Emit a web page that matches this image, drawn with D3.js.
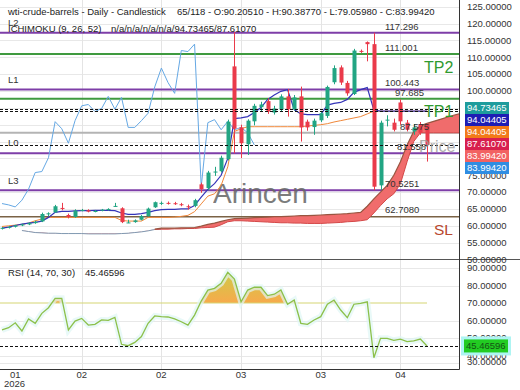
<!DOCTYPE html>
<meta charset="utf-8">
<script src="https://d3js.org/d3.v7.min.js"></script>
<style>
  body { margin: 0; background: #fff; }
  text { font-family: "Liberation Sans", Arial, sans-serif; }
</style>
<div id="chart"></div>
<script>
// ---- candles (daily OHLC, 65 visible bars) ----
const open = [59.2, 59.4, 59.7, 60.1, 60.4, 60.8, 61.3, 63.4, 64.0, 65.3,
  63.2, 62.6, 64.6, 64.6, 64.3, 64.5, 64.8, 65.8, 65.2, 60.9,
  61.1, 61.8, 62.9, 65.5, 66.7, 66.8, 66.7, 66.4, 65.8, 65.9,
  72.3, 71.2, 75.8, 76.2, 79.8, 107.3, 89.2, 84.2, 91.0, 95.2,
  97.0, 93.6, 94.5, 98.4, 94.6, 98.4, 90.9, 89.3, 91.3, 92.6,
  102.6, 107.0, 102.4, 99.1, 111.9, 114.5, 113.9, 72.0, 91.2, 90.6,
  96.6, 90.6, 88.0, 90.2, 90.2051];
const high = [59.6, 59.9, 60.3, 60.6, 61.0, 61.5, 63.9, 64.0, 66.2, 66.8,
  63.6, 64.9, 65.0, 64.9, 64.7, 65.0, 65.2, 66.8, 65.5, 61.8,
  61.9, 63.2, 65.4, 67.2, 67.2, 67.2, 67.1, 66.8, 66.3, 68.0,
  72.8, 76.3, 77.5, 80.8, 91.5, 117.6, 90.0, 91.6, 96.2, 96.8,
  97.8, 95.6, 99.0, 100.6, 98.8, 101.3, 91.5, 91.8, 94.0, 101.6,
  107.6, 107.6, 103.0, 112.5, 112.3, 114.7, 117.3, 91.2, 92.8, 91.8,
  97.5, 91.4, 90.2, 90.8, 90.3877];
const low = [58.9, 59.2, 59.5, 59.9, 60.2, 60.6, 61.1, 62.9, 63.8, 64.6,
  62.2, 62.4, 64.3, 64.0, 64.0, 64.3, 64.5, 65.6, 60.8, 60.8,
  60.9, 61.6, 62.7, 65.3, 66.2, 66.3, 66.2, 65.8, 64.8, 65.5,
  69.8, 70.5, 74.8, 75.8, 79.4, 81.5, 80.1, 81.0, 89.8, 93.8,
  93.2, 93.0, 94.0, 92.4, 94.2, 85.0, 88.2, 87.0, 90.8, 92.0,
  102.0, 101.8, 98.6, 98.8, 111.3, 108.8, 70.5251, 70.6, 89.5, 88.0,
  90.0, 88.0, 87.0, 87.0, 79.0598];
const close = [59.4, 59.7, 60.1, 60.4, 60.8, 61.2, 63.5, 63.7, 65.8, 65.1,
  62.6, 64.5, 64.7, 64.2, 64.4, 64.8, 65.0, 65.9, 61.1, 61.0,
  61.6, 62.9, 65.1, 67.0, 66.8, 66.7, 66.6, 66.2, 65.6, 67.6,
  70.9, 75.8, 76.1, 80.2, 90.9, 88.8, 84.5, 91.2, 95.6, 96.0,
  93.9, 94.8, 98.4, 94.6, 98.1, 89.2, 89.2, 91.2, 93.4, 101.2,
  106.8, 102.5, 99.3, 112.0, 111.7, 113.9, 71.6, 90.6, 91.5, 88.5,
  91.0, 88.5, 89.2, 87.6, 83.9942];

// ---- ichimoku (9, 26, 52) ----
const tenkan = [59.3, 59.6, 60.1, 60.5, 60.8, 61.0, 61.4, 62.5, 64.0, 64.3,
  64.3, 64.4, 64.5, 64.5, 64.6, 64.6, 64.6, 64.5, 63.8, 63.4,
  63.4, 63.6, 64.0, 64.5, 64.8, 64.9, 64.9, 65.0, 65.0, 66.0,
  68.5, 70.8, 72.5, 75.0, 80.0, 91.8, 92.0, 92.4, 93.6, 95.1,
  97.5, 98.8, 99.9, 100.4, 94.5, 93.2, 93.0, 93.0, 93.0, 95.8,
  96.3, 96.6, 97.5, 99.6, 100.4, 101.0, 94.3, 94.04, 94.04, 94.04,
  94.04, 94.04, 94.04, 94.04, 94.04];
const kijun = [59.8, 60.0, 60.2, 60.4, 60.8, 61.5, 62.0, 62.5, 62.5, 62.5,
  62.5, 62.5, 62.5, 62.5, 62.5, 62.5, 62.5, 62.5, 61.6, 61.4,
  61.4, 61.4, 62.5, 62.5, 62.5, 62.5, 62.6, 62.8, 63.1, 64.2,
  66.5, 68.8, 69.5, 72.0, 77.5, 88.0, 88.8, 89.4, 89.4, 89.4,
  89.4, 89.4, 89.4, 89.4, 89.4, 89.4, 89.6, 89.8, 90.0, 90.3,
  90.8, 91.2, 91.6, 92.0, 92.4, 93.2, 94.04, 94.04, 94.04, 94.04,
  94.04, 94.04, 94.04, 94.04, 94.04];
const cloudStart = 3; // bar index of first cloud value (cloud runs 26 bars ahead)
const senkouA = [58.7, 58.4, 58.1, 58.0, 57.9, 57.9, 57.8, 57.8, 57.8, 57.8,
  57.7, 57.7, 57.7, 57.7, 57.7, 57.8, 57.9, 58.1, 58.3, 58.6, 59.0,
  59.3, 59.3, 59.3, 59.4, 59.4, 59.5, 59.9, 60.4, 60.8, 61.3, 61.8, 62.1,
  62.2, 62.3, 62.4, 62.5, 62.6, 62.7, 62.7, 62.8, 62.9, 63.0, 63.0, 63.1,
  63.2, 63.3, 63.4, 63.5, 63.6, 63.8, 64.0, 65.8, 68.0,
  70.0, 72.0, 75.0, 79.0, 84.0, 88.0, 89.7, 90.4, 91.0, 91.6, 92.2, 92.8, 93.3];
const senkouB = [58.6, 58.3, 58.0, 57.9, 57.8, 57.8, 57.7, 57.7, 57.7, 57.7,
  57.6, 57.6, 57.6, 57.6, 57.6, 57.7, 57.8, 58.0, 58.2, 58.5, 58.9,
  59.0, 59.0, 59.1, 59.1, 59.2, 59.2, 59.4, 59.5, 59.6, 60.3, 61.2, 61.5,
  61.5, 61.4, 61.3, 61.2, 61.1, 61.0, 60.9, 60.9, 60.8, 60.8, 60.7, 60.7,
  60.7, 60.8, 60.9, 61.0, 61.2, 61.3, 61.5, 61.8, 63.8,
  66.0, 68.0, 69.5, 72.5, 79.0, 85.0, 87.6, 87.6, 87.6, 87.6, 87.6, 87.6, 87.6];
const chikouShift = 26;

// ---- RSI (14, 70, 30) ----
const rsi = [54.6, 55.9, 58.7, 54.0, 60.9, 58.4, 64.1, 67.3, 72.7, 72.7,
  54.6, 59.7, 61.2, 57.4, 57.8, 60.3, 60.1, 61.8, 46.4, 45.6,
  47.5, 50.8, 58.4, 62.6, 62.2, 62.0, 60.9, 59.3, 57.4, 63.1,
  71.1, 77.4, 78.4, 81.3, 87.5, 83.7, 70.7, 77.4, 79.0, 79.0,
  74.2, 75.0, 77.4, 69.3, 71.7, 58.4, 57.8, 60.3, 62.2, 69.3,
  71.7, 66.0, 61.6, 69.3, 69.8, 70.7, 38.7, 49.8, 49.8, 48.7,
  49.4, 47.9, 48.3, 49.4, 45.46596];
const rsiUpper = 70;

// ---- levels ----
const levelValues = [117.296, 111.001, 100.443, 97.685, 87.575, 81.558, 70.5251, 62.708];
const levelText = ["117.296", "111.001", "100.443", "97.685", "87.575", "81.558", "70.5251", "62.7080"];
const levelTags = ["L2", "TP2", "L1", "TP1", "", "L0", "L3", "SL"];
const dashedValues = [94.73465, 94.04405, 83.99420];
const boxValues = ["94.73465", "94.04405", "94.04405", "87.61070", "83.99420", "83.99420"];

// ---- axes ----
const priceTicks = [50, 55, 60, 65, 70, 75, 80, 85, 90, 95, 100, 105, 110, 115, 120, 125];
const rsiTicks = [90, 80, 70, 60, 50, 40, 30];
const dateTickIdx = [2, 12, 24, 36, 48, 60];
const dateTickLabels = ["01", "02", "02", "03", "03", "04"];

const title1 = "wti-crude-barrels - Daily - Candlestick";
const title2 = "65/118 - O:90.20510 - H:90.38770 - L:79.05980 - C:83.99420";
const ichiLabel = "ICHIMOKU (9, 26, 52)";
const ichiValues = "n/a/n/a/n/a/n/a/94.73465/87.61070";
const rsiLabel = "RSI (14, 70, 30)";
const rsiValue = "45.46596";

// ================= drawing =================
const W = 520, H = 390, plotRight = 459, mainBottom = 259.5, rsiTop = 260, rsiBottom = 369;
const svg = d3.select("#chart").append("svg").attr("width", W).attr("height", H);

const x = d3.scaleLinear().domain([0, 64]).range([2, 427]);
const y = d3.scaleLinear().domain([50, 127]).range([259.5, 0]);
const yR = d3.scaleLinear().domain([30, 90]).range([373, 268]);

const defs = svg.append("defs");
defs.append("clipPath").attr("id", "clipMain").append("rect")
  .attr("x", 0).attr("y", 0).attr("width", plotRight).attr("height", mainBottom);
defs.append("clipPath").attr("id", "clipRsi").append("rect")
  .attr("x", 0).attr("y", rsiTop).attr("width", plotRight).attr("height", rsiBottom - rsiTop);
defs.append("clipPath").attr("id", "clipOver").append("rect")
  .attr("x", 0).attr("y", rsiTop).attr("width", plotRight).attr("height", yR(rsiUpper) - rsiTop);
const grad = defs.append("linearGradient").attr("id", "obGrad")
  .attr("x1", 0).attr("x2", 0)
  .attr("gradientUnits", "userSpaceOnUse")
  .attr("y1", yR(90)).attr("y2", yR(70));
grad.append("stop").attr("offset", "0%").attr("stop-color", "#c9cf45");
grad.append("stop").attr("offset", "100%").attr("stop-color", "#f7aa4c");

// grid
const grid = svg.append("g");
grid.selectAll(".hg").data(priceTicks.filter(d => d > 50)).join("line")
  .attr("x1", 0).attr("x2", plotRight)
  .attr("y1", d => Math.round(y(d)) + 0.5).attr("y2", d => Math.round(y(d)) + 0.5)
  .attr("stroke", "#e8e8e8");
grid.selectAll(".rg").data(rsiTicks.filter(d => d !== rsiUpper)).join("line")
  .attr("x1", 0).attr("x2", plotRight)
  .attr("y1", d => Math.round(Math.min(yR(d), 363)) + 0.5)
  .attr("y2", d => Math.round(Math.min(yR(d), 363)) + 0.5)
  .attr("stroke", "#e8e8e8");
grid.selectAll(".vg").data(dateTickIdx.slice(1)).join("line")
  .attr("x1", d => Math.round(x(d)) + 0.5).attr("x2", d => Math.round(x(d)) + 0.5)
  .attr("y1", 0).attr("y2", rsiBottom)
  .attr("stroke", "#e4e4e4");

const main = svg.append("g").attr("clip-path", "url(#clipMain)");

// level lines
const levelColor = t => t.startsWith("L") ? "#7e3ea8" : t.startsWith("TP") ? "#3f9a3f" : t === "SL" ? "#7a6245" : "#b4b4b4";
main.selectAll(".lvl").data(levelValues).join("line")
  .attr("x1", 0).attr("x2", plotRight)
  .attr("y1", d => y(d)).attr("y2", d => y(d))
  .attr("stroke", (d, i) => levelColor(levelTags[i]))
  .attr("stroke-width", (d, i) => levelTags[i] === "SL" ? 1.5 : 2);

// cloud
const cloud = senkouA.map((a, k) => ({ i: k + cloudStart, a, b: senkouB[k] }));
main.append("path").datum(cloud)
  .attr("d", d3.area().x(d => x(d.i)).y0(d => y(d.b)).y1(d => y(d.a)))
  .attr("fill", "#f06c6c");
main.append("path").datum(cloud.slice(0, 22))
  .attr("d", d3.line().x(d => x(d.i)).y(d => y(d.b)))
  .attr("fill", "none").attr("stroke", "#7f9ab2").attr("stroke-width", 1);
main.append("path").datum(cloud.slice(20))
  .attr("d", d3.line().x(d => x(d.i)).y(d => y(d.b)))
  .attr("fill", "none").attr("stroke", "#d44848").attr("stroke-width", 1);
main.append("path").datum(cloud.slice(20))
  .attr("d", d3.line().x(d => x(d.i)).y(d => y(d.a)))
  .attr("fill", "none").attr("stroke", "#985540").attr("stroke-width", 1.2);

// watermark
main.append("text").attr("x", 213).attr("y", 203).text("Arincen")
  .attr("font-size", 28).attr("fill", "#666").attr("opacity", 0.85);

// chikou span
const chikou = close.slice(chikouShift).map((c, i) => ({ i, c }));
main.append("path").datum(chikou)
  .attr("d", d3.line().x(d => x(d.i)).y(d => y(d.c)))
  .attr("fill", "none").attr("stroke", "#65a8e4").attr("stroke-width", 1);

// kijun / tenkan
main.append("path").datum(kijun)
  .attr("d", d3.line().x((d, i) => x(i)).y(d => y(d)))
  .attr("fill", "none").attr("stroke", "#f0883a").attr("stroke-width", 1);
main.append("path").datum(tenkan)
  .attr("d", d3.line().x((d, i) => x(i)).y(d => y(d)))
  .attr("fill", "none").attr("stroke", "#3434b8").attr("stroke-width", 1.2);

// candles
const up = "#22a583", down = "#ea3a4a";
const bars = open.map((o, i) => ({ i, o, h: high[i], l: low[i], c: close[i] }));
const cg = main.append("g");
cg.selectAll(".wick").data(bars).join("line")
  .attr("x1", d => Math.round(x(d.i)) + 0.5).attr("x2", d => Math.round(x(d.i)) + 0.5)
  .attr("y1", d => y(d.h)).attr("y2", d => y(d.l))
  .attr("stroke", d => d.c >= d.o ? up : down).attr("stroke-width", 1);
cg.selectAll(".body").data(bars).join("rect")
  .attr("x", d => Math.round(x(d.i)) - 1.5)
  .attr("width", 4)
  .attr("y", d => y(Math.max(d.o, d.c)))
  .attr("height", d => Math.max(1, Math.abs(y(d.o) - y(d.c))))
  .attr("fill", d => d.c >= d.o ? up : down);

// dashed markers
main.selectAll(".dash").data(dashedValues).join("line")
  .attr("x1", 0).attr("x2", plotRight)
  .attr("y1", d => Math.round(y(d)) + 0.5).attr("y2", d => Math.round(y(d)) + 0.5)
  .attr("stroke", "#111").attr("stroke-dasharray", "3,2");

// level texts
const valueX = [385, 385, 385, 395, 400, 397, 385, 385];
svg.selectAll(".lvlTxt").data(levelValues).join("text")
  .attr("x", (d, i) => valueX[i]).attr("y", d => y(d) - 6.5).attr("dy", "0.35em")
  .attr("font-size", 9.5).attr("fill", "#333")
  .text((d, i) => levelText[i]);
svg.selectAll(".lTag").data(levelValues.filter((d, i) => levelTags[i].startsWith("L"))).join("text")
  .attr("x", 8).attr("y", d => y(d) - 10).attr("dy", "0.35em")
  .attr("font-size", 9.5).attr("fill", "#333")
  .text(d => levelTags[levelValues.indexOf(d)]);
const bigTags = levelValues.map((v, i) => ({ v, t: levelTags[i] })).filter(d => d.t === "TP1" || d.t === "TP2" || d.t === "SL");
svg.selectAll(".bTag").data(bigTags).join("text")
  .attr("x", d => d.t === "SL" ? 434 : 424)
  .attr("y", d => y(d.v) + 13).attr("dy", "0.35em")
  .attr("font-size", d => d.t === "SL" ? 15.5 : 16)
  .attr("fill", d => d.t === "SL" ? "#b8482f" : "#2f9a2f")
  .text(d => d.t);
svg.append("text").attr("x", 419).attr("y", y(dashedValues[2]) + 1).attr("dy", "0.35em")
  .attr("font-size", 16).attr("fill", "#999").attr("opacity", 0.8).text("Price");

// headers
svg.append("text").attr("x", 8).attr("y", 12).attr("dy", "0.35em").attr("font-size", 9.5).attr("fill", "#222").text(title1);
svg.append("text").attr("x", 177).attr("y", 12).attr("dy", "0.35em").attr("font-size", 9.5).attr("fill", "#222").text(title2);
svg.append("text").attr("x", 8).attr("y", 29).attr("dy", "0.35em").attr("font-size", 9.5).attr("fill", "#222").text(ichiLabel);
svg.append("text").attr("x", 111).attr("y", 29).attr("dy", "0.35em").attr("font-size", 9.5).attr("fill", "#222").text(ichiValues);

// ---- RSI panel ----
const rp = svg.append("g").attr("clip-path", "url(#clipRsi)");
rp.append("path").datum(rsi)
  .attr("d", d3.area().x((d, i) => x(i)).y0(yR(rsiUpper)).y1(d => yR(d)))
  .attr("fill", "url(#obGrad)").attr("clip-path", "url(#clipOver)");
rp.append("line").attr("x1", 0).attr("x2", x(rsi.length - 1))
  .attr("y1", yR(rsiUpper)).attr("y2", yR(rsiUpper))
  .attr("stroke", "#d6d674").attr("stroke-width", 1.2);
rp.append("path").datum(rsi)
  .attr("d", d3.line().x((d, i) => x(i)).y(d => yR(d)))
  .attr("fill", "none").attr("stroke", "#e0f6f5").attr("stroke-width", 6).attr("opacity", 0.7);
rp.append("path").datum(rsi)
  .attr("d", d3.line().x((d, i) => x(i)).y(d => yR(d)))
  .attr("fill", "none").attr("stroke", "#8cc04a").attr("stroke-width", 1.3);
rp.append("line").attr("x1", 0).attr("x2", plotRight)
  .attr("y1", Math.round(yR(rsi[rsi.length - 1])) + 0.5).attr("y2", Math.round(yR(rsi[rsi.length - 1])) + 0.5)
  .attr("stroke", "#111").attr("stroke-dasharray", "3,2");
svg.append("text").attr("x", 8).attr("y", 273).attr("dy", "0.35em").attr("font-size", 9.5).attr("fill", "#222").text(rsiLabel);
svg.append("text").attr("x", 85).attr("y", 273).attr("dy", "0.35em").attr("font-size", 9.5).attr("fill", "#222").text(rsiValue);

// frame
svg.append("line").attr("x1", 0).attr("x2", W).attr("y1", rsiTop - 0.5).attr("y2", rsiTop - 0.5).attr("stroke", "#555");
svg.append("line").attr("x1", 0).attr("x2", plotRight + 0.5).attr("y1", rsiBottom + 0.5).attr("y2", rsiBottom + 0.5).attr("stroke", "#333");
svg.append("line").attr("x1", plotRight + 0.5).attr("x2", plotRight + 0.5).attr("y1", 0).attr("y2", rsiBottom + 0.5).attr("stroke", "#333");

// value boxes area (axis labels under the boxes are hidden in the original)
const boxTop = 102, boxBottom = 102 + boxValues.length * 12;
svg.selectAll(".pt").data(priceTicks.filter(d => y(d) < boxTop - 4 || y(d) > boxBottom - 2)).join("text")
  .attr("x", 467).attr("y", d => y(d)).attr("dy", "0.35em")
  .attr("font-size", 9.5).attr("fill", "#333")
  .text(d => d.toFixed(5));
svg.selectAll(".rt").data(rsiTicks).join("text")
  .attr("x", 467).attr("y", d => Math.min(yR(d), 362)).attr("dy", "0.35em")
  .attr("font-size", 9.5).attr("fill", "#333")
  .text(d => d.toFixed(5));

const boxFill = ["#1e9c9c", "#1d1db4", "#f27a18", "#d81f4e", "#f26262", "#2f8de2"];
const bx = svg.append("g");
boxValues.forEach((v, k) => {
  const cy = 108 + k * 12;
  bx.append("rect").attr("x", 465).attr("y", cy - 6).attr("width", 44).attr("height", 12).attr("fill", boxFill[k]);
  bx.append("text").attr("x", 467).attr("y", cy).attr("dy", "0.35em")
    .attr("font-size", 9.5).attr("fill", "#fff").text(v);
});
const ry = yR(rsi[rsi.length - 1]);
bx.append("rect").attr("x", 461).attr("y", ry - 9.5).attr("width", 50).attr("height", 19).attr("fill", "#aef4f2");
bx.append("rect").attr("x", 464).attr("y", ry - 6.5).attr("width", 44).attr("height", 13).attr("fill", "#22cc22");
bx.append("text").attr("x", 466).attr("y", ry).attr("dy", "0.35em")
  .attr("font-size", 9.5).attr("fill", "#145214").text(rsiValue);

// date axis
svg.selectAll(".dt").data(dateTickIdx).join("text")
  .attr("x", d => x(d)).attr("y", 375).attr("dy", "0.35em")
  .attr("text-anchor", "middle").attr("font-size", 9.5).attr("fill", "#333")
  .text((d, i) => dateTickLabels[i]);
svg.append("text").attr("x", 4).attr("y", 384).attr("dy", "0.35em")
  .attr("font-size", 9.5).attr("fill", "#333").text("2026");
</script>
